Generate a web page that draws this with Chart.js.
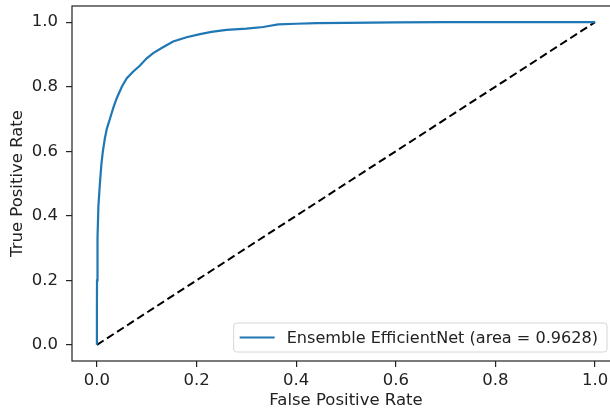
<!DOCTYPE html>
<html lang="en">
<head>
  <meta charset="UTF-8">
  <title>ROC Curve</title>
  <script src="https://cdn.jsdelivr.net/npm/chart.js"></script>
  <style>
    html, body {
      margin: 0;
      padding: 0;
      background: #fff;
      overflow: hidden;
    }
    .chart-container {
      width: 610px;
      height: 412px;
      overflow: hidden;
    }
    canvas {
      display: block;
    }
  </style>
</head>
<body>
  <div class="chart-container">
    <canvas id="rocChart" width="640" height="412"></canvas>
  </div>

  <script>
    // ROC curve
    const fpr = [0, 0, 0.0002, 0.0012, 0.003, 0.006, 0.009, 0.012, 0.016, 0.020, 0.026, 0.033,
      0.040, 0.050, 0.060, 0.073, 0.086, 0.100, 0.113, 0.130, 0.153, 0.180, 0.207, 0.230,
      0.260, 0.300, 0.334, 0.345, 0.364, 0.400, 0.441, 0.500, 0.600, 0.700, 0.800, 0.900, 1.0];
    const tpr = [0, 0.10, 0.20, 0.33, 0.43, 0.50, 0.56, 0.60, 0.64, 0.67, 0.70, 0.735,
      0.765, 0.80, 0.826, 0.847, 0.865, 0.888, 0.904, 0.92, 0.94, 0.953, 0.963, 0.970,
      0.976, 0.980, 0.985, 0.988, 0.993, 0.995, 0.997, 0.998, 0.999, 1.0, 1.0, 1.0, 1.0];
    const chanceX = [0, 1];
    const chanceY = [0, 1];
    const tickValues = [0, 0.2, 0.4, 0.6, 0.8, 1.0];
    const curveLabel = 'Ensemble EfficientNet (area = 0.9628)';

    const FONT = 'DejaVu Sans';
    const FS = 16.5;

    const frame = {
      id: 'frame',
      afterDraw(chart) {
        const a = chart.chartArea;
        const ctx = chart.ctx;
        ctx.save();
        ctx.strokeStyle = '#222';
        ctx.lineWidth = 1.2;
        ctx.strokeRect(a.left, a.top, a.right - a.left, a.bottom - a.top);
        ctx.restore();
      }
    };

    const boxLegend = {
      id: 'boxLegend',
      afterDraw(chart) {
        const ctx = chart.ctx;
        const ds = chart.data.datasets[0];
        ctx.save();
        ctx.font = '16.1px ' + FONT;
        const textW = ctx.measureText(ds.label).width;
        const right = chart.chartArea.right - 13;
        const bottom = chart.chartArea.bottom - 9;
        const h = 29;
        const w = textW + 62;
        const left = right - w;
        const top = bottom - h;
        ctx.beginPath();
        ctx.roundRect(left, top, w, h, 3);
        ctx.fillStyle = 'rgba(255,255,255,0.8)';
        ctx.fill();
        ctx.strokeStyle = '#d6d6d6';
        ctx.lineWidth = 1;
        ctx.stroke();
        const cy = top + h / 2;
        ctx.beginPath();
        ctx.moveTo(left + 6, cy);
        ctx.lineTo(left + 41, cy);
        ctx.strokeStyle = ds.borderColor;
        ctx.lineWidth = 2.2;
        ctx.stroke();
        ctx.fillStyle = '#222';
        ctx.textBaseline = 'middle';
        ctx.fillText(ds.label, left + 53, cy + 1);
        ctx.restore();
      }
    };

    new Chart(document.getElementById('rocChart'), {
      type: 'scatter',
      data: {
        datasets: [
          {
            label: curveLabel,
            data: fpr.map((x, i) => ({ x: x, y: tpr[i] })),
            showLine: true,
            borderColor: '#1f77b4',
            borderWidth: 2.2,
            pointRadius: 0,
            tension: 0
          },
          {
            label: 'chance',
            data: chanceX.map((x, i) => ({ x: x, y: chanceY[i] })),
            showLine: true,
            borderColor: '#000',
            borderWidth: 2,
            borderDash: [8, 4],
            pointRadius: 0
          }
        ]
      },
      options: {
        responsive: false,
        animation: false,
        layout: { padding: { left: 0, right: 20, top: 6, bottom: 0 } },
        plugins: {
          legend: { display: false },
          tooltip: { enabled: false }
        },
        scales: {
          x: {
            type: 'linear',
            min: -0.05,
            max: 1.05,
            afterBuildTicks: s => { s.ticks = tickValues.map(v => ({ value: v })); },
            afterFit: s => { s.height = 51; s.paddingLeft = 0; s.paddingRight = 0; },
            border: { display: false },
            grid: { drawOnChartArea: false, drawTicks: true, tickLength: 6, color: '#222', lineWidth: 1.2 },
            ticks: {
              padding: 4,
              color: '#222',
              font: { family: FONT, size: FS },
              callback: v => v.toFixed(1)
            },
            title: {
              display: true,
              text: 'False Positive Rate',
              color: '#222',
              font: { family: FONT, size: FS },
              padding: { top: 0, bottom: 1 }
            }
          },
          y: {
            type: 'linear',
            min: -0.05,
            max: 1.05,
            afterBuildTicks: s => { s.ticks = tickValues.map(v => ({ value: v })); },
            afterFit: s => { s.width = 72; s.paddingTop = 0; s.paddingBottom = 0; },
            border: { display: false },
            grid: { drawOnChartArea: false, drawTicks: true, tickLength: 6, color: '#222', lineWidth: 1.2 },
            ticks: {
              padding: 8,
              color: '#222',
              font: { family: FONT, size: FS },
              callback: v => v.toFixed(1)
            },
            title: {
              display: true,
              text: 'True Positive Rate',
              color: '#222',
              font: { family: FONT, size: FS },
              padding: { top: 8, bottom: 0 }
            }
          }
        }
      },
      plugins: [frame, boxLegend]
    });
  </script>
</body>
</html>
